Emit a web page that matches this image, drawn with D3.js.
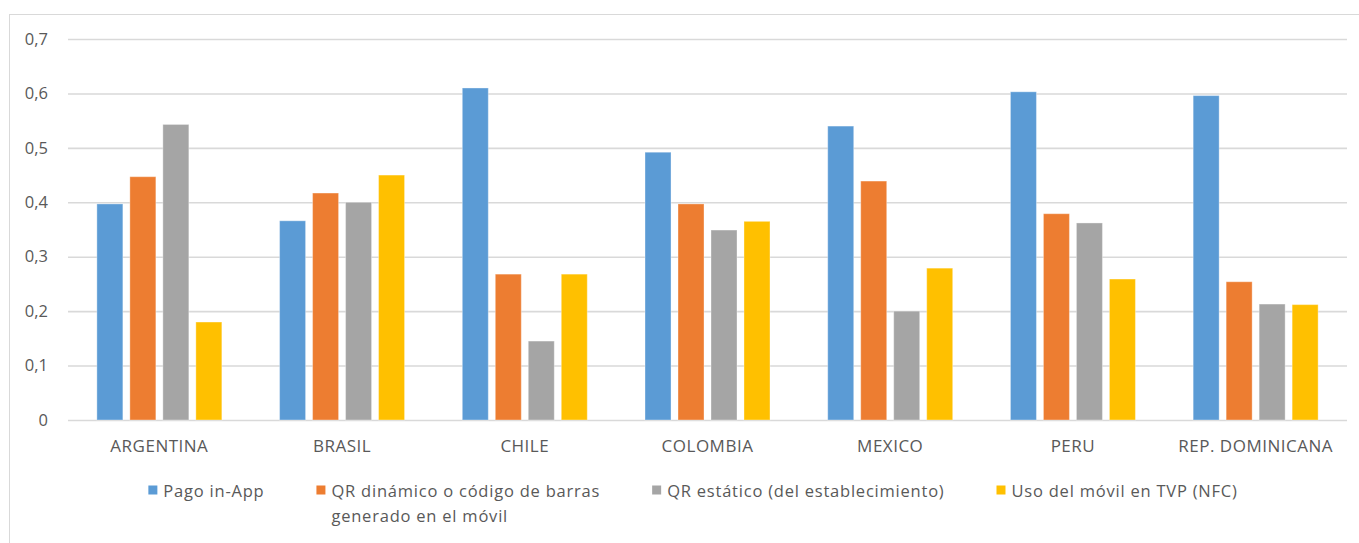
<!DOCTYPE html>
<html lang="es">
<head>
<meta charset="utf-8">
<script src="https://cdn.jsdelivr.net/npm/d3@7"></script>
<style>
  html, body { margin: 0; padding: 0; background: #ffffff; }
  svg { display: block; }
  text { font-family: "Open Sans", "Noto Sans", sans-serif; fill: #595959; }
</style>
</head>
<body>
<svg id="chart" width="1359" height="543"></svg>
<script>
// Países evaluados
const countries = ["ARGENTINA", "BRASIL", "CHILE", "COLOMBIA", "MEXICO", "PERU", "REP. DOMINICANA"];

// Métodos de pago móvil (series)
const seriesNames = [
  ["Pago in-App"],
  ["QR dinámico o código de barras", "generado en el móvil"],
  ["QR estático (del establecimiento)"],
  ["Uso del móvil en TVP (NFC)"]
];
const seriesColors = ["#5B9BD5", "#ED7D31", "#A5A5A5", "#FFC000"];

// Valores por serie, en el orden de los países
const pagoInApp   = [0.397, 0.366, 0.610, 0.492, 0.540, 0.603, 0.596];
const qrDinamico  = [0.447, 0.417, 0.268, 0.397, 0.439, 0.379, 0.254];
const qrEstatico  = [0.543, 0.400, 0.145, 0.349, 0.200, 0.362, 0.213];
const usoNFC      = [0.180, 0.450, 0.268, 0.365, 0.279, 0.259, 0.212];
const seriesValues = [pagoInApp, qrDinamico, qrEstatico, usoNFC];

// Marcas del eje vertical
const yTicks = [0, 0.1, 0.2, 0.3, 0.4, 0.5, 0.6, 0.7];

const svg = d3.select("#chart");

// Marco del área del gráfico
svg.append("rect")
  .attr("x", 9.5).attr("y", 14.5)
  .attr("width", 1360).attr("height", 540)
  .attr("fill", "#ffffff")
  .attr("stroke", "#d9d9d9")
  .attr("stroke-width", 1);

const plot = { left: 68, right: 1347, top: 39, bottom: 420 };

const y = d3.scaleLinear().domain([0, 0.7]).range([plot.bottom, plot.top]);
const x0 = d3.scaleBand().domain(countries).range([plot.left, plot.right]).paddingInner(0).paddingOuter(0);
const groupWidth = x0.step() * 0.684;
const x1 = d3.scaleBand().domain(d3.range(seriesValues.length))
  .range([0, groupWidth]).paddingInner(0.212).paddingOuter(0);
const groupOffset = (x0.step() - groupWidth) / 2;

const fmt = d => d === 0 ? "0" : d3.format(".1f")(d).replace(".", ",");

// Líneas de cuadrícula horizontales
const yAxis = d3.axisLeft(y).tickValues(yTicks).tickFormat(fmt)
  .tickSize(-(plot.right - plot.left)).tickPadding(20);
const gy = svg.append("g")
  .attr("transform", `translate(${plot.left},0)`)
  .call(yAxis);
gy.select(".domain").remove();
gy.selectAll(".tick line").attr("stroke", "#d9d9d9").attr("stroke-width", 1.6);
gy.selectAll(".tick text")
  .attr("font-size", 16.5)
  .attr("fill", "#595959")
  .style("font-family", '"Open Sans", sans-serif');

// Barras agrupadas
const groups = svg.append("g").selectAll("g")
  .data(countries)
  .join("g")
  .attr("transform", d => `translate(${x0(d) + groupOffset},0)`);

groups.selectAll("rect")
  .data((c, ci) => seriesValues.map((vals, si) => ({ si, v: vals[ci] })))
  .join("rect")
  .attr("x", d => x1(d.si))
  .attr("width", x1.bandwidth())
  .attr("y", d => y(d.v))
  .attr("height", d => y(0) - y(d.v))
  .attr("fill", d => seriesColors[d.si])
  .attr("stroke", "#ffffff")
  .attr("stroke-opacity", 0.35)
  .attr("stroke-width", 1);

// Etiquetas del eje horizontal
const xAxis = d3.axisBottom(x0).tickSize(0).tickPadding(20);
const gx = svg.append("g")
  .attr("transform", `translate(0,${plot.bottom})`)
  .call(xAxis);
gx.select(".domain").remove();
gx.selectAll(".tick text")
  .attr("font-size", 17)
  .attr("letter-spacing", 0.5)
  .attr("fill", "#595959")
  .style("font-family", '"Open Sans", sans-serif');

// Leyenda
const legend = svg.append("g").attr("class", "legend");
const legendY = 491;
const lineGap = 25;
const swatch = 9;
const itemGap = 52;
const items = [];
seriesNames.forEach((lines, i) => {
  const g = legend.append("g");
  g.append("rect")
    .attr("x", 0).attr("y", legendY - swatch / 2 - 1)
    .attr("width", swatch).attr("height", swatch)
    .attr("fill", seriesColors[i]);
  const t = g.append("text")
    .attr("x", swatch + 6)
    .attr("y", legendY)
    .attr("font-size", 16.5)
    .attr("letter-spacing", 0.78)
    .attr("fill", "#595959");
  lines.forEach((ln, k) => {
    t.append("tspan").attr("x", swatch + 6).attr("dy", k === 0 ? "0.35em" : lineGap).text(ln);
  });
  const maxW = swatch + 6 + d3.max(t.selectAll("tspan").nodes(), n => n.getComputedTextLength());
  items.push({ g, w: maxW });
});
const totalW = d3.sum(items, d => d.w) + itemGap * (items.length - 1);
let start = 693 - totalW / 2;
items.forEach(it => {
  it.g.attr("transform", `translate(${start},0)`);
  start += it.w + itemGap;
});
</script>
</body>
</html>
